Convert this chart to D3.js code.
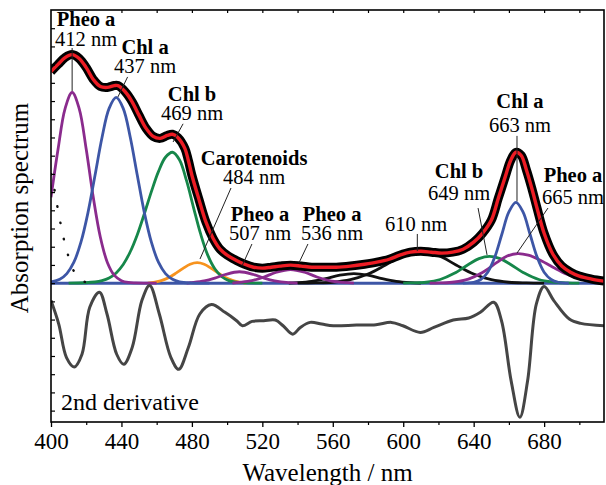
<!DOCTYPE html>
<html>
<head>
<meta charset="utf-8">
<script src="https://cdnjs.cloudflare.com/ajax/libs/d3/7.8.5/d3.min.js"></script>
<style>
body { margin: 0; background: #fff; }
text { font-family: "Liberation Serif", "Times New Roman", serif; }
</style>
</head>
<body>
<svg></svg>
<script>
// values: [wavelength nm, absorbance (a.u.)]
const spectrum = [
  [400,0.930],[404,0.961],[408,0.991],[412,1.004],[416,0.987],[420,0.947],[424,0.895],[428,0.864],
  [432,0.860],[436,0.868],[438,0.868],[442,0.842],[446,0.798],[450,0.737],[454,0.680],[458,0.645],
  [462,0.636],[466,0.649],[469,0.654],[472,0.640],[476,0.592],[478,0.539],[480,0.474],[484,0.368],
  [488,0.268],[492,0.197],[496,0.149],[500,0.123],[505,0.101],[510,0.083],[515,0.070],[520,0.066],
  [525,0.070],[530,0.075],[536,0.079],[542,0.075],[548,0.070],[555,0.070],[562,0.070],[570,0.075],
  [578,0.083],[585,0.092],[592,0.105],[598,0.123],[604,0.136],[610,0.140],[616,0.136],[622,0.132],
  [628,0.136],[634,0.149],[640,0.180],[645,0.219],[650,0.276],[654,0.373],[658,0.469],[661,0.539],
  [664,0.575],[667,0.561],[670,0.496],[673,0.417],[676,0.329],[680,0.219],[685,0.127],[690,0.075],
  [695,0.048],[700,0.031],[707,0.018],[714,0.009]
];

const pheoA412 = [[400,0.377],[404,0.588],[408,0.767],[412,0.838],[416,0.767],[420,0.588],[424,0.377],
  [428,0.203],[432,0.091],[436,0.034],[440,0.011],[444,0.003],[448,0.001],[460,0]];
const chlA437 = [[400,0.005],[405,0.017],[409,0.042],[413,0.092],[417,0.180],[421,0.310],[425,0.474],
  [429,0.641],[433,0.768],[437,0.816],[441,0.768],[445,0.641],[449,0.474],[453,0.310],[457,0.180],
  [461,0.092],[465,0.042],[469,0.017],[473,0.006],[479,0.001],[490,0]];
const chlB469 = [[410,0],[425,0.005],[429,0.011],[433,0.023],[437,0.045],[441,0.082],[445,0.138],
  [449,0.213],[453,0.305],[457,0.402],[461,0.490],[465,0.553],[469,0.575],[473,0.541],[477,0.449],
  [481,0.330],[485,0.215],[489,0.123],[493,0.063],[497,0.028],[501,0.011],[505,0.004],[511,0.001],[520,0]];
const carot484 = [[455,0],[459,0.005],[463,0.012],[467,0.025],[471,0.044],[475,0.065],[479,0.083],
  [483,0.090],[487,0.083],[491,0.065],[495,0.044],[499,0.025],[503,0.012],[507,0.005],[511,0]];
const pheoA507 = [[477,0],[479,0.002],[487,0.010],[493,0.022],[499,0.038],[507,0.050],[515,0.038],
  [521,0.022],[527,0.010],[535,0.002],[540,0]];
const pheoA536 = [[503,0],[506,0.003],[514,0.011],[521,0.027],[528,0.048],[536,0.060],[544,0.048],
  [551,0.027],[558,0.011],[566,0.003],[572,0]];
const band572 = [[535,0],[540,0.002],[548,0.008],[556,0.020],[564,0.035],[572,0.042],[580,0.035],
  [588,0.020],[596,0.008],[604,0.002],[610,0]];
const band610 = [[540,0],[550,0.001],[560,0.004],[570,0.015],[580,0.040],[590,0.080],[600,0.122],
  [610,0.140],[620,0.122],[630,0.080],[640,0.040],[650,0.015],[660,0.004],[670,0.001],[680,0]];
const chlB649 = [[600,0],[605,0.001],[613,0.004],[621,0.016],[629,0.043],[637,0.082],[643,0.108],
  [649,0.118],[655,0.108],[661,0.082],[669,0.043],[677,0.016],[685,0.005],[693,0.001],[700,0]];
const chlA663 = [[634,0],[640,0.004],[644,0.016],[648,0.048],[652,0.115],[656,0.215],[660,0.313],
  [664,0.355],[668,0.313],[672,0.215],[676,0.115],[680,0.048],[684,0.016],[688,0.004],[694,0]];
const pheoA665 = [[615,0],[621,0.001],[629,0.005],[637,0.018],[645,0.047],[653,0.090],[659,0.119],
  [665,0.130],[671,0.123],[677,0.104],[685,0.070],[693,0.039],[701,0.018],[709,0.007],[714,0.003]];
const soretTail = [[400,0.48],[402,0.41],[404,0.32],[406,0.24],[408,0.17],[410,0.115],[412,0.068],
  [415,0.030],[419,0.006],[424,0]];

// second derivative, arbitrary units
const secondDeriv = [[400,0.70],[404.4,0.00],[408.8,-1.00],[413.2,-1.28],[417.6,-0.90],[422,0.50],
  [427.5,0.95],[431.8,0.30],[437.3,-0.90],[441.3,-1.20],[446.1,-0.70],[451.6,0.70],[456,1.15],
  [461.5,0.30],[468.1,-1.00],[472.5,-1.35],[478,-0.70],[484.5,0.30],[491.1,0.58],[498.8,0.35],
  [505.4,0.10],[508.7,-0.05],[514.2,0.08],[520.8,0.10],[527.4,0.12],[531.8,-0.05],[537.3,-0.30],
  [541.6,-0.10],[547.1,0.05],[553.7,0.00],[560.3,-0.05],[573.5,-0.03],[584.5,-0.02],[593.3,0.05],
  [599.8,-0.05],[609.7,-0.25],[617.4,-0.10],[628.4,0.12],[637.2,0.18],[643.8,0.35],[651.4,0.65],
  [655.8,0.10],[661.3,-1.70],[666.2,-2.78],[670.6,-1.70],[675.6,0.60],[680,1.12],[685.5,0.70],
  [694.3,0.15],[700.8,0.02],[714.7,-0.05]];

const xTicks = [400, 440, 480, 520, 560, 600, 640, 680];

// peak labels: name, wavelength text, label centre (nm), baselines (abs), leader from/to
const peakLabels = [
  {name: "Pheo a", nm: "412 nm", x: 419.9, y1: 1.128, y2: 1.042, line: [412, 1.033, 412, 0.844]},
  {name: "Chl a", nm: "437 nm", x: 453.4, y1: 1.006, y2: 0.924, line: [443.5, 0.906, 438, 0.818]},
  {name: "Chl b", nm: "469 nm", x: 480.1, y1: 0.799, y2: 0.717, line: [475, 0.700, 469.3, 0.620]},
  {name: "Carotenoids", nm: "484 nm", x: 515.3, y1: 0.518, y2: 0.436, line: [502.2, 0.418, 484.6, 0.106]},
  {name: "Pheo a", nm: "507 nm", x: 518.7, y1: 0.275, y2: 0.190, line: [514.1, 0.172, 508.5, 0.076]},
  {name: "Pheo a", nm: "536 nm", x: 559.6, y1: 0.275, y2: 0.190, line: [545.9, 0.172, 540.8, 0.089]},
  {name: "", nm: "610 nm", x: 607.3, y1: 0.229, y2: 0.229, line: [608, 0.216, 608, 0.141]},
  {name: "Chl b", nm: "649 nm", x: 631.7, y1: 0.462, y2: 0.366, line: [642.5, 0.330, 647.6, 0.124]},
  {name: "Chl a", nm: "663 nm", x: 666.3, y1: 0.770, y2: 0.664, line: [664.6, 0.647, 664.6, 0.360]},
  {name: "Pheo a", nm: "665 nm", x: 696.4, y1: 0.445, y2: 0.348, line: [682.2, 0.330, 664.6, 0.132]}
];

const svgWidth = 606;
const svgHeight = 485;
const padding = {top: 10, left: 51, right: 2, bottom: 63};
const plotBottom = svgHeight - padding.bottom;
const plotRight = svgWidth - padding.right;

const svg = d3.select("svg")
  .attr("width", svgWidth)
  .attr("height", svgHeight);

const x = d3.scaleLinear().domain([400, 714]).range([padding.left, plotRight]);
const y = d3.scaleLinear().domain([-0.61, 1.2]).range([plotBottom, padding.top]);
const yD = d3.scaleLinear().domain([-2.92, 1.22]).range([plotBottom, y(0)]);

const curve = d3.curveCatmullRom.alpha(0.5);
const line = d3.line().x(d => x(d[0])).y(d => y(d[1])).curve(curve);
const lineD = d3.line().x(d => x(d[0])).y(d => yD(d[1])).curve(curve);

svg.append("clipPath").attr("id", "plot")
  .append("rect")
  .attr("x", padding.left).attr("y", padding.top)
  .attr("width", plotRight - padding.left).attr("height", plotBottom - padding.top);

const g = svg.append("g").attr("clip-path", "url(#plot)");

const purple = "#8a2b8d", blue = "#3d56a6", green = "#16874a", orange = "#f7931e";

// zero line of the upper panel
g.append("path")
  .datum([[400, 0], [714, 0]])
  .attr("d", line).attr("fill", "none").attr("stroke", blue).attr("stroke-width", 3);

const components = [
  [band572, "#111"], [band610, "#111"], [carot484, orange], [chlB469, green], [chlB649, green],
  [pheoA507, purple], [pheoA536, purple], [pheoA412, purple], [pheoA665, purple],
  [chlA437, blue], [chlA663, blue]
];
components.forEach(function (c) {
  g.append("path")
    .datum(c[0])
    .attr("d", line)
    .attr("fill", "none")
    .attr("stroke", c[1])
    .attr("stroke-width", 2.8);
});

g.append("path")
  .datum(soretTail)
  .attr("d", line)
  .attr("fill", "none")
  .attr("stroke", "#111")
  .attr("stroke-width", 2.4)
  .attr("stroke-linecap", "round")
  .attr("stroke-dasharray", "0.5,16");

g.append("path")
  .datum(secondDeriv)
  .attr("d", lineD)
  .attr("fill", "none")
  .attr("stroke", "#454545")
  .attr("stroke-width", 3);

// measured spectrum (black) and fit (red)
g.append("path")
  .datum(spectrum)
  .attr("d", line).attr("fill", "none").attr("stroke", "#000").attr("stroke-width", 9);
g.append("path")
  .datum(spectrum)
  .attr("d", line).attr("fill", "none").attr("stroke", "#ed1c24").attr("stroke-width", 3.4);

// labels
const lab = svg.append("g");
peakLabels.forEach(function (p) {
  lab.append("line")
    .attr("x1", x(p.line[0])).attr("y1", y(p.line[1]))
    .attr("x2", x(p.line[2])).attr("y2", y(p.line[3]))
    .attr("stroke", "#222").attr("stroke-width", 1);
  if (p.name) {
    lab.append("text")
      .attr("x", x(p.x)).attr("y", y(p.y1))
      .attr("text-anchor", "middle")
      .attr("font-weight", "bold")
      .attr("font-size", 20.5)
      .text(p.name);
  }
  lab.append("text")
    .attr("x", x(p.x)).attr("y", y(p.y2))
    .attr("text-anchor", "middle")
    .attr("font-size", 20.5)
    .text(p.nm);
});

svg.append("text")
  .attr("x", 61).attr("y", 410)
  .attr("font-size", 24)
  .text("2nd derivative");

// axes
const xAxis = svg.append("g")
  .attr("transform", `translate(0,${plotBottom})`)
  .call(d3.axisBottom(x).tickValues(xTicks).tickSize(5).tickPadding(6).tickSizeOuter(0));
xAxis.select(".domain").remove();
xAxis.selectAll("text").attr("font-size", 23).attr("font-family", "Liberation Serif");
xAxis.selectAll("line").attr("stroke-width", 1.3);

svg.append("g")
  .attr("transform", `translate(0,${plotBottom})`)
  .call(d3.axisBottom(x).tickValues(d3.range(420, 714, 40)).tickSize(3).tickFormat(""))
  .call(a => a.select(".domain").remove())
  .selectAll("line").attr("stroke-width", 1.2);

svg.append("g")
  .attr("transform", `translate(0,${padding.top})`)
  .call(d3.axisTop(x).tickValues(d3.range(420, 714, 20)).tickSize(-3).tickFormat(""))
  .call(a => a.select(".domain").remove())
  .selectAll("line").attr("stroke-width", 1.2);

svg.append("g")
  .attr("transform", `translate(${padding.left},0)`)
  .call(d3.axisLeft(y).tickValues(d3.range(-0.56, 1.19, 0.08)).tickSize(-4).tickFormat(""))
  .call(a => a.select(".domain").remove())
  .selectAll("line").attr("stroke-width", 1.2);

svg.append("rect")
  .attr("x", padding.left).attr("y", padding.top)
  .attr("width", plotRight - padding.left).attr("height", plotBottom - padding.top)
  .attr("fill", "none").attr("stroke", "#000").attr("stroke-width", 1.6);

svg.append("text")
  .attr("x", x(557)).attr("y", 481)
  .attr("text-anchor", "middle")
  .attr("font-size", 25)
  .text("Wavelength / nm");

svg.append("text")
  .attr("transform", "translate(28,208) rotate(-90)")
  .attr("text-anchor", "middle")
  .attr("font-size", 25)
  .text("Absorption spectrum");
</script>
</body>
</html>
